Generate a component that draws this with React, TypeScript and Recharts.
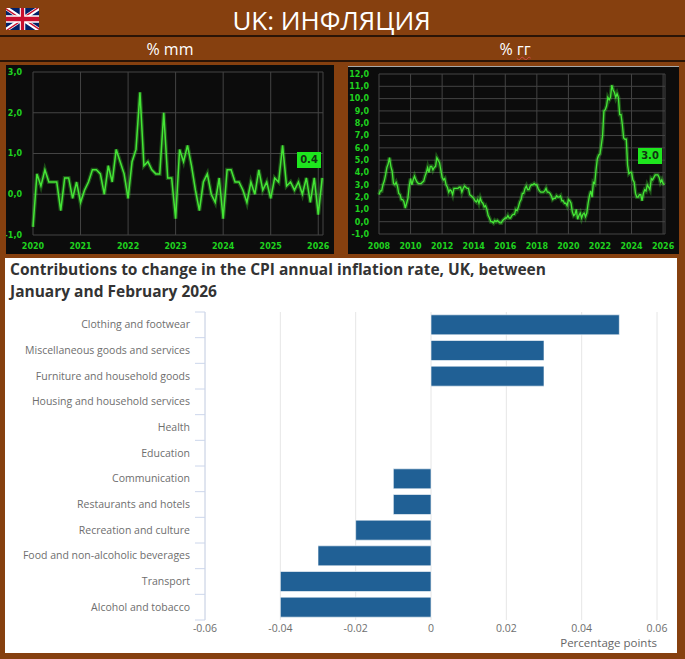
import React from 'react';
import {
  LineChart,
  Line,
  XAxis,
  YAxis,
  CartesianGrid,
  BarChart,
  Bar,
} from 'recharts';

// м/м, с января 2020
const mmStartYear = 2020;
const mmValues = [
  -0.8, 0.5, 0.2, 0.6, 0.3, 0.3, 0.3, -0.4, 0.4, 0.4, -0.1, 0.3, // 2020
  -0.2, 0.1, 0.3, 0.6, 0.6, 0.5, 0.0, 0.7, 0.3, 1.1, 0.8, 0.5, // 2021
  -0.1, 0.8, 1.1, 2.5, 0.7, 0.8, 0.6, 0.5, 0.5, 2.0, 0.4, 0.4, // 2022
  -0.6, 1.1, 0.8, 1.2, 0.7, 0.1, -0.4, 0.3, 0.5, 0.0, -0.2, 0.4, // 2023
  -0.6, 0.6, 0.6, 0.3, 0.3, 0.1, -0.2, 0.3, 0.0, 0.6, 0.1, 0.3, // 2024
  -0.1, 0.4, 0.3, 1.2, 0.2, 0.3, 0.1, 0.3, 0.0, 0.4, -0.2, 0.4, // 2025
  -0.5, 0.4, // 2026
];
const mmYearTicks = [2020, 2021, 2022, 2023, 2024, 2025, 2026];
const mmValueTicks = [-1, 0, 1, 2, 3];

// г/г, с января 2008
const yyStartYear = 2008;
const yyValues = [
  2.2, 2.5, 2.5, 3.0, 3.3, 3.8, 4.4, 4.7, 5.2, 4.5, 4.1, 3.1, // 2008
  3.0, 3.2, 2.9, 2.3, 2.2, 1.8, 1.8, 1.6, 1.1, 1.5, 1.9, 2.9, // 2009
  3.5, 3.0, 3.4, 3.7, 3.4, 3.2, 3.1, 3.1, 3.1, 3.2, 3.3, 3.7, // 2010
  4.0, 4.4, 4.0, 4.5, 4.5, 4.2, 4.4, 4.5, 5.2, 5.0, 4.8, 4.2, // 2011
  3.6, 3.4, 3.5, 3.0, 2.8, 2.4, 2.6, 2.5, 2.2, 2.7, 2.7, 2.7, // 2012
  2.7, 2.8, 2.8, 2.4, 2.7, 2.9, 2.8, 2.7, 2.7, 2.2, 2.1, 2.0, // 2013
  1.9, 1.7, 1.6, 1.8, 1.5, 1.9, 1.6, 1.5, 1.2, 1.3, 1.0, 0.5, // 2014
  0.3, 0.0, 0.0, -0.1, 0.1, 0.0, 0.1, 0.0, -0.1, -0.1, 0.1, 0.2, // 2015
  0.3, 0.3, 0.5, 0.3, 0.3, 0.5, 0.6, 0.6, 1.0, 0.9, 1.2, 1.6, // 2016
  1.8, 2.3, 2.3, 2.7, 2.9, 2.6, 2.6, 2.9, 3.0, 3.0, 3.1, 3.0, // 2017
  3.0, 2.7, 2.5, 2.4, 2.4, 2.4, 2.5, 2.7, 2.4, 2.4, 2.3, 2.1, // 2018
  1.8, 1.9, 1.9, 2.1, 2.0, 2.0, 2.1, 1.7, 1.7, 1.5, 1.5, 1.3, // 2019
  1.8, 1.7, 1.5, 0.8, 0.5, 0.6, 1.0, 0.2, 0.5, 0.7, 0.3, 0.6, // 2020
  0.7, 0.4, 0.7, 1.5, 2.1, 2.5, 2.0, 3.2, 3.1, 4.2, 5.1, 5.4, // 2021
  5.5, 6.2, 7.0, 9.0, 9.1, 9.4, 10.1, 9.9, 10.1, 11.1, 10.7, 10.5, // 2022
  10.1, 10.4, 10.1, 8.7, 8.7, 7.9, 6.8, 6.7, 6.7, 4.6, 3.9, 4.0, // 2023
  4.0, 3.4, 3.2, 2.3, 2.0, 2.0, 2.2, 2.2, 1.7, 2.3, 2.6, 2.5, // 2024
  3.0, 2.8, 2.6, 3.5, 3.4, 3.6, 3.8, 3.8, 3.8, 3.6, 3.2, 3.4, // 2025
  3.1, 3.0, // 2026
];
const yyYearTicks = [2008, 2010, 2012, 2014, 2016, 2018, 2020, 2022, 2024, 2026];
const yyValueTicks = [-1, 0, 1, 2, 3, 4, 5, 6, 7, 8, 9, 10, 11, 12];

// вклад в изменение годовой инфляции, п.п.
const categories = [
  'Clothing and footwear',
  'Miscellaneous goods and services',
  'Furniture and household goods',
  'Housing and household services',
  'Health',
  'Education',
  'Communication',
  'Restaurants and hotels',
  'Recreation and culture',
  'Food and non-alcoholic beverages',
  'Transport',
  'Alcohol and tobacco',
];
const contributions = [0.05, 0.03, 0.03, 0, 0, 0, -0.01, -0.01, -0.02, -0.03, -0.04, -0.04];
const contribTicks = [-0.06, -0.04, -0.02, 0, 0.02, 0.04, 0.06];

const toMonthly = (start: number, values: number[]) =>
  values.map((v, i) => ({ t: start + i / 12, v }));

const mmData = toMonthly(mmStartYear, mmValues);
const yyData = toMonthly(yyStartYear, yyValues);
const barData = categories.map((name, i) => ({ name, value: contributions[i] }));

const BROWN = '#86400f';
const GREEN_TEXT = '#1fd21f';
const GREEN_LINE = '#45e636';
const commaFmt = (v: number) => v.toFixed(1).replace('.', ',');

const tickStyle = {
  fill: GREEN_TEXT,
  fontSize: 8,
  fontWeight: 700,
  fontFamily: 'DejaVu Sans',
};

const abs = (left: number, top: number, width?: number, height?: number): React.CSSProperties => ({
  position: 'absolute',
  left,
  top,
  width,
  height,
});

const UkFlag = () => (
  <svg viewBox="0 0 60 30" width={33} height={22} preserveAspectRatio="none" style={abs(6, 8)}>
    <clipPath id="fs">
      <path d="M0,0 v30 h60 v-30 z" />
    </clipPath>
    <clipPath id="ft">
      <path d="M30,15 h30 v15 z v15 h-30 z h-30 v-15 z v-15 h30 z" />
    </clipPath>
    <g clipPath="url(#fs)">
      <path d="M0,0 v30 h60 v-30 z" fill="#012169" />
      <path d="M0,0 L60,30 M60,0 L0,30" stroke="#fff" strokeWidth={6} />
      <path d="M0,0 L60,30 M60,0 L0,30" clipPath="url(#ft)" stroke="#C8102E" strokeWidth={4} />
      <path d="M30,0 v30 M0,15 h60" stroke="#fff" strokeWidth={10} />
      <path d="M30,0 v30 M0,15 h60" stroke="#C8102E" strokeWidth={6} />
    </g>
  </svg>
);

const ValueBox = ({ left, top, value }: { left: number; top: number; value: number }) => (
  <div
    style={{
      ...abs(left, top, 24, 16),
      background: '#1ee61e',
      color: '#123312',
      fontFamily: 'DejaVu Sans',
      fontWeight: 700,
      fontSize: 10,
      lineHeight: '16px',
      textAlign: 'center',
    }}
  >
    {value.toFixed(1)}
  </div>
);

const MmChart = () => (
  <div style={{ ...abs(6, 65, 328, 189), background: '#0c0c0c' }}>
    <LineChart width={328} height={189} data={mmData} margin={{ top: 7, right: 11, bottom: 0, left: 0 }}>
      <CartesianGrid stroke="#444" />
      <XAxis
        dataKey="t"
        type="number"
        domain={[2020, 2026.1]}
        ticks={mmYearTicks}
        interval={0}
        height={19}
        axisLine={false}
        tickLine={false}
        tickSize={6}
        tickMargin={2}
        tick={tickStyle}
      />
      <YAxis
        type="number"
        domain={[-1, 3]}
        ticks={mmValueTicks}
        interval={0}
        width={27}
        axisLine={false}
        tickLine={false}
        tickSize={6}
        tickMargin={5}
        tickFormatter={commaFmt}
        tick={tickStyle}
      />
      <Line key="glow" dataKey="v" stroke={GREEN_LINE} strokeOpacity={0.3} strokeWidth={4} dot={false} isAnimationActive={false} />
      <Line key="main" dataKey="v" stroke={GREEN_LINE} strokeWidth={1.5} dot={false} isAnimationActive={false} />
    </LineChart>
    <ValueBox left={291} top={87} value={mmValues[mmValues.length - 1]} />
  </div>
);

const YyChart = () => (
  <div style={{ ...abs(348, 66, 331, 188), background: '#0c0c0c', boxShadow: 'inset 0 1px 0 #a9a9a9' }}>
    <LineChart width={331} height={188} data={yyData} margin={{ top: 8, right: 14, bottom: 0, left: 0 }}>
      <CartesianGrid stroke="#444" />
      <XAxis
        dataKey="t"
        type="number"
        domain={[2008, 2026.12]}
        ticks={yyYearTicks}
        interval={0}
        height={20}
        axisLine={false}
        tickLine={false}
        tickSize={6}
        tickMargin={3}
        tick={tickStyle}
      />
      <YAxis
        type="number"
        domain={[-1, 12]}
        ticks={yyValueTicks}
        interval={0}
        width={31}
        axisLine={false}
        tickLine={false}
        tickSize={6}
        tickMargin={4}
        tickFormatter={commaFmt}
        tick={tickStyle}
      />
      <Line key="glow" dataKey="v" stroke={GREEN_LINE} strokeOpacity={0.3} strokeWidth={4} dot={false} isAnimationActive={false} />
      <Line key="main" dataKey="v" stroke={GREEN_LINE} strokeWidth={1.3} dot={false} isAnimationActive={false} />
    </LineChart>
    <ValueBox left={290} top={82} value={yyValues[yyValues.length - 1]} />
  </div>
);

const BAR_W = 672;
const BAR_H = 395;
const X_AXIS_H = 33;
const BAR_MARGIN = { top: 54, right: 20, bottom: 0, left: 0 };
const BAND = (BAR_H - BAR_MARGIN.top - X_AXIS_H) / categories.length;

const CategoryTick = (props: any) => {
  const { x, y, payload, index } = props;
  const last = index === categories.length - 1;
  return (
    <g>
      <text x={x} y={y} dy={3.6} textAnchor="end" fontSize={10.5} fill="#6e6e6e" fontFamily="Open Sans">
        {payload.value}
      </text>
      <line x1={x + 5} x2={x + 15} y1={y - BAND / 2} y2={y - BAND / 2} stroke="#ccd6eb" />
      {last && <line x1={x + 5} x2={x + 15} y1={y + BAND / 2} y2={y + BAND / 2} stroke="#ccd6eb" />}
    </g>
  );
};

const ContributionsChart = () => (
  <div style={{ ...abs(5, 258, BAR_W, BAR_H), background: '#fff' }}>
    <div
      style={{
        ...abs(5, 0),
        fontFamily: 'Open Sans',
        fontWeight: 700,
        fontSize: 15.5,
        lineHeight: '22px',
        color: '#333',
        whiteSpace: 'nowrap',
      }}
    >
      Contributions to change in the CPI annual inflation rate, UK, between
      <br />
      January and February 2026
    </div>
    <BarChart width={BAR_W} height={BAR_H} data={barData} layout="vertical" margin={BAR_MARGIN} barCategoryGap="11%">
      <CartesianGrid horizontal={false} stroke="#e6e6e6" />
      <XAxis
        type="number"
        domain={[-0.06, 0.06]}
        ticks={contribTicks}
        interval={0}
        axisLine={false}
        tickLine={false}
        tickSize={0}
        tickMargin={5}
        height={X_AXIS_H}
        tickFormatter={(v: number) => (v === 0 ? '0' : String(v))}
        tick={{ fill: '#6e6e6e', fontSize: 10.5, fontFamily: 'Open Sans' }}
      />
      <YAxis
        type="category"
        dataKey="name"
        width={200}
        interval={0}
        axisLine={{ stroke: '#ccd6eb' }}
        tickLine={false}
        tickSize={10}
        tickMargin={5}
        tick={<CategoryTick />}
      />
      <Bar dataKey="value" fill="#206095" stroke="#ffffff" strokeWidth={0.6} isAnimationActive={false} />
    </BarChart>
    <div
      style={{
        ...abs(0, 377, 652, 16),
        textAlign: 'right',
        fontFamily: 'Open Sans',
        fontSize: 11.5,
        lineHeight: '16px',
        color: '#666',
      }}
    >
      Percentage points
    </div>
  </div>
);

export default function App() {
  return (
    <div style={{ ...abs(0, 0, 685, 659), background: BROWN, overflow: 'hidden', fontFamily: 'Open Sans' }}>
      <UkFlag />
      <div
        style={{
          ...abs(0, 0, 663, 36),
          textAlign: 'center',
          color: '#fff',
          fontSize: 26,
          lineHeight: '40px',
        }}
      >
        UK: ИНФЛЯЦИЯ
      </div>
      <div style={{ ...abs(0, 35, 685, 2), background: '#2a1406' }} />
      <div style={{ ...abs(0, 37, 340, 24), textAlign: 'center', color: '#fff', fontSize: 16, lineHeight: '24px' }}>
        % mm
      </div>
      <div style={{ ...abs(345, 37, 340, 24), textAlign: 'center', color: '#fff', fontSize: 16, lineHeight: '24px' }}>
        %{' '}
        <span style={{ textDecoration: 'underline wavy #d24a4a', textDecorationThickness: 1 }}>гг</span>
      </div>
      <div style={{ ...abs(0, 60, 685, 2), background: '#2a1406' }} />
      <MmChart />
      <YyChart />
      <ContributionsChart />
    </div>
  );
}
